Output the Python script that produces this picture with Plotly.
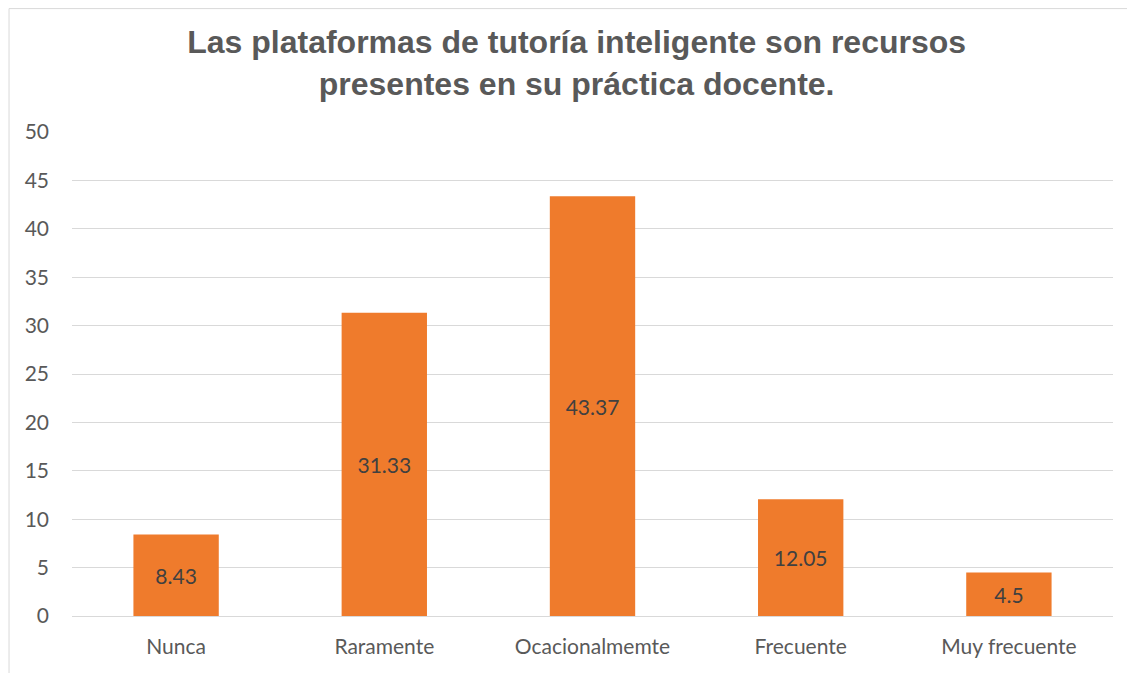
import plotly.graph_objects as go

categorias = ["Nunca", "Raramente", "Ocacionalmemte", "Frecuente", "Muy frecuente"]
valores = [8.43, 31.33, 43.37, 12.05, 4.5]
etiquetas = ["8.43", "31.33", "43.37", "12.05", "4.5"]

fig = go.Figure()
fig.add_trace(go.Bar(
    x=categorias,
    y=valores,
    text=etiquetas,
    textposition="inside",
    insidetextanchor="middle",
    textfont=dict(family="Lato, Noto Sans, sans-serif", size=21, color="#404040"),
    marker=dict(color="#EF7B2C", line=dict(width=0)),
    width=0.41,
    hoverinfo="x+y",
))

fig.update_layout(
    width=1135, height=673,
    paper_bgcolor="white", plot_bgcolor="white",
    margin=dict(l=64, r=30, t=124, b=65),
    showlegend=False,
    title=dict(
        text="<b>Las plataformas de tutoría inteligente son recursos<br>presentes en su práctica docente.</b>",
        x=0.501, xanchor="center", xref="container",
        y=0.933, yanchor="middle", yref="container",
        font=dict(family="Liberation Sans, Arial, sans-serif", size=32, color="#595959"),
    ),
    font=dict(family="Lato, Noto Sans, sans-serif", size=21, color="#595959"),
)
fig.update_yaxes(
    range=[0, 50], dtick=5, showgrid=True, gridcolor="#D9D9D9", gridwidth=1,
    zeroline=True, zerolinecolor="#D9D9D9", zerolinewidth=1,
    showline=False, ticks="", ticklabelstandoff=22,
    tickfont=dict(size=21, color="#595959"),
)
fig.update_xaxes(
    showline=False, ticks="", showgrid=False, ticklabelstandoff=16,
    tickfont=dict(size=21, color="#595959"),
)

# chart border
fig.add_shape(type="rect", xref="paper", yref="paper",
              x0=-0.0605, x1=1.0173, y0=-0.2, y1=1.255,
              line=dict(color="#D9D9D9", width=1), fillcolor="rgba(0,0,0,0)",
              layer="below")

fig.write_html("out.html")
